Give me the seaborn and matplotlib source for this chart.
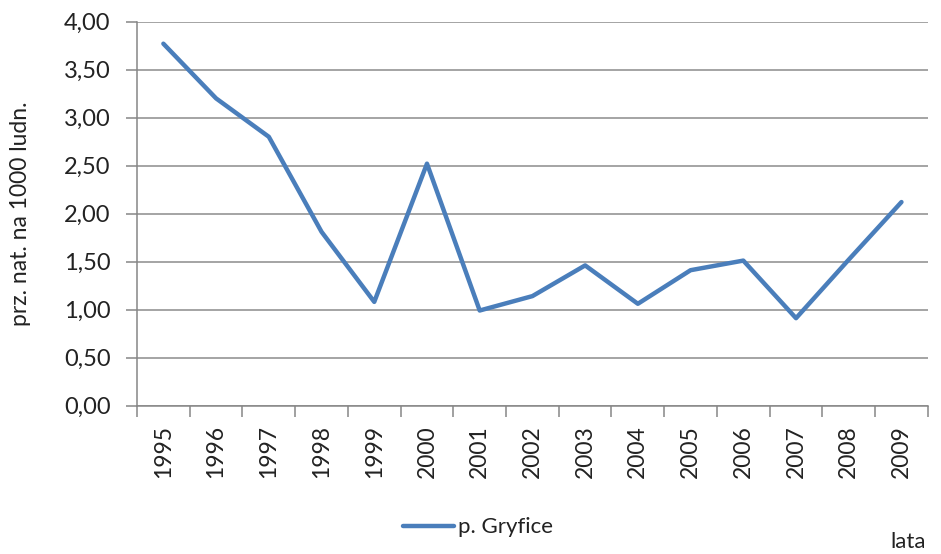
import matplotlib
matplotlib.use("Agg")
import matplotlib.pyplot as plt
import seaborn as sns
import numpy as np
import pandas as pd
from matplotlib.ticker import FixedLocator

years = ["1995", "1996", "1997", "1998", "1999", "2000", "2001", "2002",
         "2003", "2004", "2005", "2006", "2007", "2008", "2009"]
values = [3.77, 3.20, 2.80, 1.81, 1.08, 2.52, 0.99, 1.14,
          1.46, 1.06, 1.41, 1.51, 0.91, 1.52, 2.12]
series_name = "p. Gryfice"
y_ticks = [0.0, 0.5, 1.0, 1.5, 2.0, 2.5, 3.0, 3.5, 4.0]
y_label = "prz. nat. na 1000 ludn."
x_label = "lata"

sns.set_theme(style="white")
plt.rcParams['font.family'] = ['Lato', 'DejaVu Sans']

df = pd.DataFrame({"rok": years, "wartosc": values})

fig = plt.figure(figsize=(9.41, 5.54), dpi=100)
ax = fig.add_axes([0.1456, 0.268, 0.8404, 0.693])

sns.lineplot(data=df, x="rok", y="wartosc", ax=ax, color="#4a7ebb",
             linewidth=3.2, label=series_name, sort=False)

ax.set_xlim(-0.5, len(years) - 0.5)
ax.set_ylim(0, 4)
ax.set_yticks(y_ticks)
ax.set_yticklabels([f"{v:.2f}".replace(".", ",") for v in y_ticks], fontsize=17, color="#222222")
ax.yaxis.grid(True, color="#8c8c8c", linewidth=1.1)
ax.xaxis.grid(False)

ax.set_xticks(range(len(years)))
ax.set_xticklabels(years, rotation=90, fontsize=16.5, color="#222222")
ax.xaxis.set_minor_locator(FixedLocator(np.arange(-0.5, len(years), 1.0)))
ax.tick_params(axis="x", which="major", length=0, pad=14)
ax.tick_params(axis="x", which="minor", length=8, width=1.1, color="#868686", direction="out", bottom=True)
ax.tick_params(axis="y", which="major", length=8, width=1.1, color="#868686", direction="out", left=True, pad=11)

for s in ["top", "right"]:
    ax.spines[s].set_visible(False)
for s in ["left", "bottom"]:
    ax.spines[s].set_color("#868686")
    ax.spines[s].set_linewidth(1.1)

ax.set_ylabel(y_label, fontsize=16.5, color="#222222", labelpad=24)
ax.set_xlabel("")
fig.text(0.984, 0.004, x_label, fontsize=16, color="#222222", ha="right", va="bottom")

leg = ax.legend(loc="center", bbox_to_anchor=(0.508, 0.048), bbox_transform=fig.transFigure,
                frameon=False, fontsize=16, handlelength=2.3, handletextpad=0.2)
for t in leg.get_texts():
    t.set_color("#222222")

fig.savefig("out.png", dpi=100)
